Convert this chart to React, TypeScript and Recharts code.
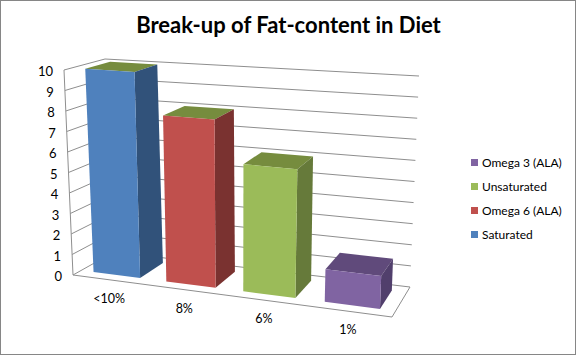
import React from "react";
import { BarChart, Bar, XAxis, YAxis, CartesianGrid, Legend, Customized } from "recharts";

const categories = ["<10%", "8%", "6%", "1%"];
const seriesNames = ["Saturated", "Omega 6 (ALA)", "Unsaturated", "Omega 3 (ALA)"];
const saturated = [10, null, null, null];
const omega6 = [null, 8, null, null];
const unsaturated = [null, null, 6, null];
const omega3 = [null, null, null, 1.5];
const valueTicks = [0, 1, 2, 3, 4, 5, 6, 7, 8, 9, 10];

const seriesValues = [saturated, omega6, unsaturated, omega3];
const data = categories.map((category, i) => {
  const row: Record<string, unknown> = { category };
  seriesNames.forEach((name, s) => (row[name] = seriesValues[s][i]));
  return row;
});

const frontColors = ["#4F81BD", "#C0504D", "#9BBB59", "#8064A2"];
const sideColors = ["#31527A", "#7A3230", "#667A3A", "#513F6C"];
const topColors = ["#768C3E", "#768C3E", "#768C3E", "#604A7B"];

const W = 576;
const H = 355;
const PLOT = { left: 40, top: 10, width: 526, height: 305 };
const WFRONT = 0.2;
const WBACK = 0.82;
const PERSPECTIVE = 1.12;
const FONT = "Lato, 'Open Sans', sans-serif";

// Corners of the 3D box on screen
const corners = {
  b00: [73, 275],
  b10: [392, 317],
  t00: [64, 70],
  t10: [401, 94],
  b01: [114, 252],
  b11: [410, 287],
  t01: [105, 59],
  t11: [419, 76],
};

function project(uRaw: number, v: number, w: number): [number, number] {
  const u = uRaw / (uRaw + PERSPECTIVE * (1 - uRaw));
  const mix = (i: number) => {
    const f0 = corners.b00[i] * (1 - u) + corners.b10[i] * u;
    const f1 = corners.t00[i] * (1 - u) + corners.t10[i] * u;
    const g0 = corners.b01[i] * (1 - u) + corners.b11[i] * u;
    const g1 = corners.t01[i] * (1 - u) + corners.t11[i] * u;
    const f = f0 * (1 - v) + f1 * v;
    const g = g0 * (1 - v) + g1 * v;
    return f * (1 - w) + g * w;
  };
  return [mix(0), mix(1)];
}
const toU = (x: number) => (x - PLOT.left) / PLOT.width;
const toV = (y: number) => (PLOT.top + PLOT.height - y) / PLOT.height;
const pts = (list: [number, number][]) => list.map((p) => p.join(",")).join(" ");

function makeBarShape(index: number) {
  return function BarShape(props: any) {
    const { x, y, width, height } = props;
    if (!(height > 0)) return <g />;
    const u0 = toU(x);
    const u1 = toU(x + width);
    const v1 = toV(y);
    const v0 = toV(y + height);
    const p = project;
    return (
      <g>
        <polygon
          points={pts([p(u0, v1, WFRONT), p(u1, v1, WFRONT), p(u1, v1, WBACK), p(u0, v1, WBACK)])}
          fill={topColors[index]}
        />
        <polygon
          points={pts([p(u1, v0, WFRONT), p(u1, v1, WFRONT), p(u1, v1, WBACK), p(u1, v0, WBACK)])}
          fill={sideColors[index]}
        />
        <polygon
          points={pts([p(u0, v0, WFRONT), p(u1, v0, WFRONT), p(u1, v1, WFRONT), p(u0, v1, WFRONT)])}
          fill={frontColors[index]}
        />
      </g>
    );
  };
}

function gridLine(props: any) {
  const v = toV(props.y1);
  return (
    <polyline
      key={props.key ?? props.y1}
      points={pts([project(0, v, 0), project(0, v, 1), project(1, v, 1)])}
      fill="none"
      stroke="#8E8E8E"
      strokeWidth={1}
    />
  );
}

function YTick(props: any) {
  const [px, py] = project(0, toV(props.y), 0);
  return (
    <text x={px - 11} y={py + 1} textAnchor="end" dominantBaseline="central" fontFamily={FONT} fontSize={13} fill="#000">
      {props.payload.value}
    </text>
  );
}

function XTick(props: any) {
  const [px, py] = project(toU(props.x), 0, 0);
  return (
    <text x={px} y={py + 18.5} textAnchor="middle" dominantBaseline="central" fontFamily={FONT} fontSize={12.5} fill="#000">
      {props.payload.value}
    </text>
  );
}

function Frame() {
  return (
    <g>
      <rect x={0.5} y={0.5} width={W - 1} height={H - 1} fill="none" stroke="#868686" />
      <polyline
        points={pts([project(0, 1, 0), project(0, 0, 0), project(1, 0, 0), project(1, 0, 1)])}
        fill="none"
        stroke="#8E8E8E"
      />
      <text x={288.5} y={33} textAnchor="middle" fontFamily={FONT} fontWeight={700} fontSize={22} fill="#000">
        Break-up of Fat-content in Diet
      </text>
    </g>
  );
}

function LegendBox(props: any) {
  const items = [...(props.payload || [])].sort(
    (a: any, b: any) => seriesNames.indexOf(b.value) - seriesNames.indexOf(a.value)
  );
  return (
    <div style={{ fontFamily: FONT, fontSize: 12, color: "#000" }}>
      {items.map((it: any) => (
        <div key={it.value} style={{ display: "flex", alignItems: "center", height: 24, whiteSpace: "nowrap" }}>
          <span style={{ width: 7, height: 7, background: it.color, marginRight: 4, display: "inline-block" }} />
          {it.value}
        </div>
      ))}
    </div>
  );
}

export default function App() {
  return (
    <div style={{ position: "absolute", left: 0, top: 0, width: W, height: H, background: "#fff" }}>
      <BarChart
        width={W}
        height={H}
        data={data}
        barCategoryGap="17.5%"
        margin={{ top: PLOT.top, left: 10, right: W - PLOT.left - PLOT.width, bottom: 10 }}
      >
        <Customized component={Frame} />
        <CartesianGrid vertical={false} horizontal={gridLine} />
        <XAxis dataKey="category" height={30} axisLine={false} tickLine={false} tick={XTick} interval={0} />
        <YAxis
          width={30}
          type="number"
          domain={[0, 10]}
          ticks={valueTicks}
          interval={0}
          axisLine={false}
          tickLine={false}
          tick={YTick}
        />
        {seriesNames.map((name, i) => (
          <Bar
            key={name}
            dataKey={name}
            stackId="all"
            fill={frontColors[i]}
            isAnimationActive={false}
            shape={makeBarShape(i)}
          />
        ))}
        <Legend
          layout="vertical"
          align="center"
          verticalAlign="middle"
          content={LegendBox}
          wrapperStyle={{ position: "absolute", left: 471, top: 150, width: 104, bottom: "auto", right: "auto" }}
        />
      </BarChart>
    </div>
  );
}
